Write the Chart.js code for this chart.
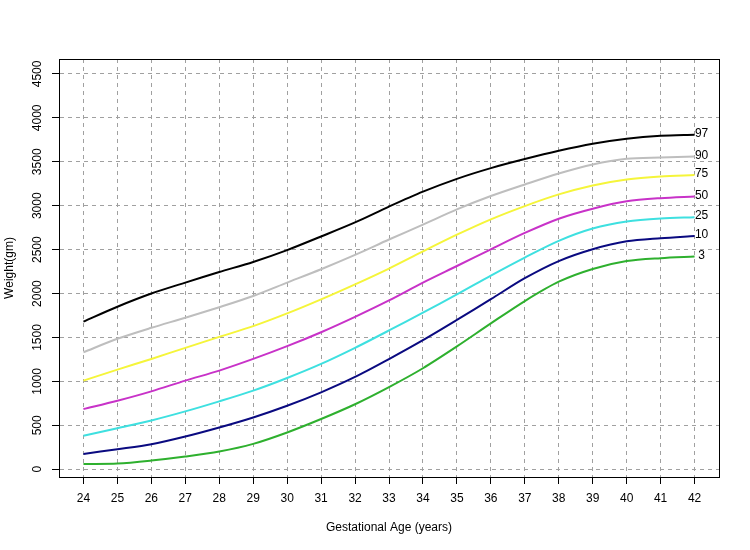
<!DOCTYPE html>
<html>
<head>
<meta charset="utf-8">
<script src="https://cdn.jsdelivr.net/npm/chart.js@4/dist/chart.umd.min.js"></script>
<style>
  html, body { margin: 0; padding: 0; background: #fff; }
  #wrap { width: 750px; height: 550px; }
</style>
</head>
<body>
<div id="wrap"><canvas id="chart" width="750" height="550"></canvas></div>
<script>
// gestational age (weeks) and weight percentiles in grams
const weeks = [24, 25, 26, 27, 28, 29, 30, 31, 32, 33, 34, 35, 36, 37, 38, 39, 40, 41, 42];
const p3  = [61, 65, 99, 145, 202, 289, 419, 572, 740, 935, 1150, 1398, 1660, 1915, 2135, 2280, 2370, 2403, 2421];
const p10 = [175, 228, 285, 373, 476, 590, 723, 876, 1051, 1255, 1470, 1700, 1936, 2175, 2370, 2505, 2595, 2630, 2655];
const p25 = [381, 468, 556, 659, 773, 895, 1039, 1199, 1382, 1580, 1784, 1990, 2205, 2410, 2600, 2740, 2820, 2855, 2870];
const p50 = [685, 780, 887, 1009, 1123, 1256, 1401, 1560, 1735, 1922, 2125, 2314, 2504, 2690, 2852, 2966, 3050, 3086, 3105];
const p75 = [1009, 1134, 1256, 1382, 1507, 1629, 1774, 1934, 2105, 2285, 2480, 2670, 2845, 2996, 3129, 3231, 3299, 3333, 3349];
const p90 = [1332, 1485, 1610, 1725, 1845, 1973, 2125, 2277, 2440, 2615, 2785, 2958, 3110, 3242, 3367, 3470, 3534, 3549, 3560];
const p97 = [1681, 1850, 2000, 2125, 2245, 2360, 2495, 2650, 2810, 2990, 3160, 3306, 3428, 3531, 3625, 3705, 3762, 3795, 3807];

const seriesLabels = ['97', '90', '75', '50', '25', '10', '3'];
const seriesData = [p97, p90, p75, p50, p25, p10, p3];
const seriesColors = ['#000000', '#bebebe', '#f5f53a', '#c832c8', '#3ee0e0', '#0a0a80', '#2eb02e'];

const yTicks = [0, 500, 1000, 1500, 2000, 2500, 3000, 3500, 4000, 4500];

const FONT = 'Liberation Sans, Arial, sans-serif';
Chart.defaults.font.family = FONT;
Chart.defaults.font.size = 12;
Chart.defaults.color = '#000';

// full box round the plot, like R's box()
const boxPlugin = {
  id: 'box',
  afterDraw(chart) {
    const a = chart.chartArea;
    const c = chart.ctx;
    c.save();
    c.strokeStyle = '#000';
    c.lineWidth = 1;
    c.strokeRect(Math.round(a.left) + 0.5, Math.round(a.top) + 0.5,
                 Math.round(a.right - a.left), Math.round(a.bottom - a.top));
    c.restore();
  }
};

// percentile names at the right end of each curve
const endLabels = {
  id: 'endLabels',
  afterDatasetsDraw(chart) {
    const c = chart.ctx;
    c.save();
    c.font = '12px ' + FONT;
    c.fillStyle = '#000';
    c.textAlign = 'center';
    c.textBaseline = 'middle';
    chart.data.datasets.forEach((ds, i) => {
      const pts = chart.getDatasetMeta(i).data;
      const last = pts[pts.length - 1];
      c.fillText(ds.label, last.x + 7, last.y - 1);
    });
    c.restore();
  }
};

const datasets = seriesLabels.map((lab, i) => ({
  label: lab,
  data: weeks.map((w, j) => ({ x: w, y: seriesData[i][j] })),
  borderColor: seriesColors[i],
  borderWidth: 2,
  pointRadius: 0,
  tension: 0.3,
  fill: false
}));

new Chart(document.getElementById('chart').getContext('2d'), {
  type: 'line',
  data: { datasets: datasets },
  options: {
    responsive: false,
    animation: false,
    layout: { padding: { left: 0, top: 59, right: 31, bottom: 0 } },
    plugins: { legend: { display: false }, tooltip: { enabled: false } },
    scales: {
      x: {
        type: 'linear',
        min: 23.28,
        max: 42.72,
        afterBuildTicks: s => { s.ticks = weeks.map(v => ({ value: v })); },
        afterFit: s => { s.height = 73; },
        ticks: { padding: 7, maxRotation: 0, minRotation: 0, autoSkip: false, color: '#000',
                 callback: v => String(v) },
        grid: { color: '#a0a0a0', tickColor: '#000', tickLength: 7, lineWidth: 1 },
        border: { color: '#000', dash: [4, 4] },
        title: { display: true, text: 'Gestational Age (years)', font: { size: 12 }, padding: { top: 0, bottom: 15 }, color: '#000' }
      },
      y: {
        min: -88,
        max: 4670,
        afterBuildTicks: s => { s.ticks = yTicks.map(v => ({ value: v })); },
        afterFit: s => { s.width = 59; },
        ticks: { padding: 1, minRotation: 90, maxRotation: 90, crossAlign: 'center', color: '#000',
                 callback: v => String(v) },
        grid: { color: '#a0a0a0', tickColor: '#000', tickLength: 7, lineWidth: 1 },
        border: { color: '#000', dash: [4, 4] },
        title: { display: true, text: 'Weight(gm)', font: { size: 12 }, padding: { top: 2, bottom: 0 }, color: '#000' }
      }
    }
  },
  plugins: [boxPlugin, endLabels]
});
</script>
</body>
</html>
